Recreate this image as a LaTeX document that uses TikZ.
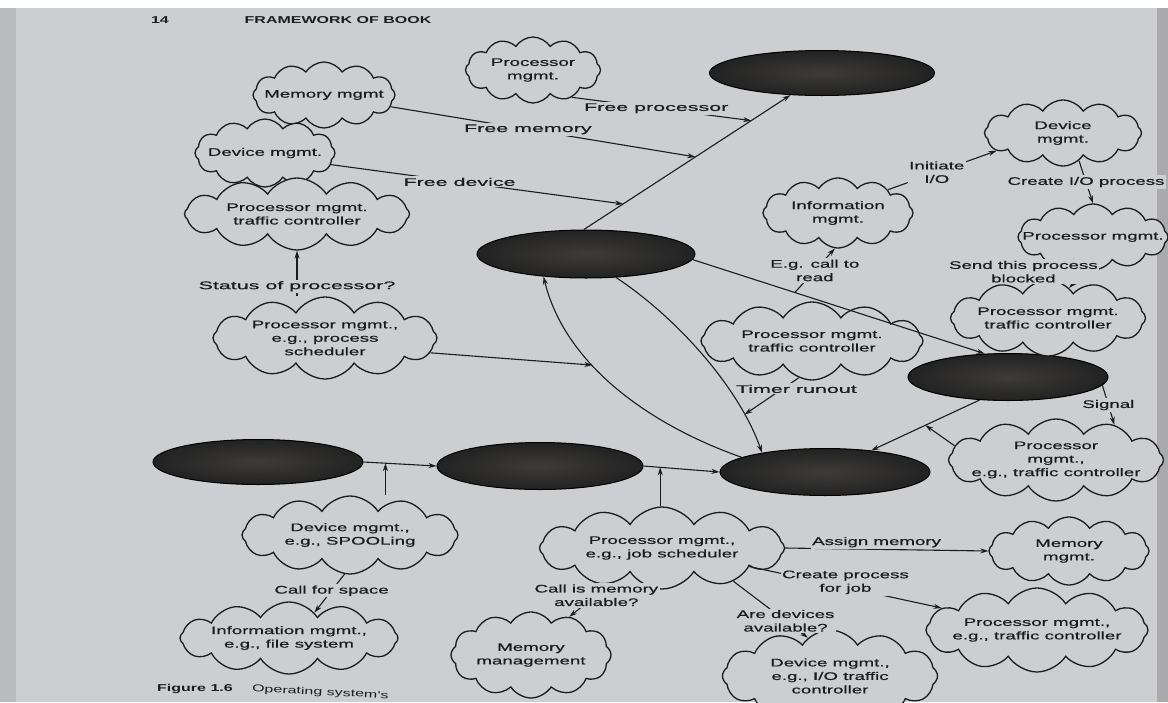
\documentclass[tikz,border=0pt]{standalone}
\usepackage{fontspec}
\setmainfont{Liberation Sans}
\newfontfamily\diagfont[FakeStretch=1.7,FakeBold=0.7]{Liberation Sans}
\newfontfamily\diagwide[FakeStretch=1.95,FakeBold=0.7]{Liberation Sans}
\newfontfamily\headfont[FakeStretch=1.6]{Liberation Sans}
\usetikzlibrary{shapes.symbols,shapes.geometric,arrows.meta,calc}

\definecolor{paper}{RGB}{205,206,210}
\definecolor{edgeL}{RGB}{186,187,191}
\definecolor{edgeR}{RGB}{170,170,173}
\definecolor{ink}{RGB}{28,28,32}
\definecolor{blobin}{RGB}{62,60,58}
\definecolor{blobout}{RGB}{34,34,34}

% a manager cloud of given outline size, with its text on top
\newcommand\puffnode[5]{%
  \node[puff, minimum width=#3, minimum height=#4+20] (#1) at (#2) {};
  \node[ctext] (#1t) at (#1) {#5};}

\begin{document}
\begin{tikzpicture}[x=1pt, y=-1pt,
  state/.style={ellipse, draw=black, line width=1pt, inner color=blobin, outer color=blobout, inner sep=0pt},
  puff/.style={cloud, cloud puffs=12, cloud puff arc=115, cloud ignores aspect, draw=ink, line width=1.3pt, fill=paper, inner sep=0pt},
  ctext/.style={align=center, text=ink, font=\diagfont\fontsize{11}{13.5}\selectfont, inner sep=0pt},
  lbl/.style={fill=paper, align=center, text=ink, font=\diagfont\fontsize{11}{13.5}\selectfont, inner sep=1.5pt},
  wide/.style={font=\diagwide\fontsize{11}{13.5}\selectfont},
  hdr/.style={text=ink, font=\headfont\bfseries\fontsize{10}{12}\selectfont, inner sep=0pt},
  conn/.style={draw=ink, line width=1.1pt},
  arr/.style={conn, -{Stealth[length=8pt,width=5pt]}}]

% page and its edges
\useasboundingbox (0,0) rectangle (1168,702);
\fill[white] (0,0) rectangle (1168,702);
\fill[paper] (0,8) rectangle (1168,702);
\fill[edgeL] (0,8) rectangle (16,702);
\fill[edgeR] (1157,8) rectangle (1168,702);

% running head
\node[hdr] (pgno) at (160,20) {14};
\node[hdr] (title) at (338,20) {FRAMEWORK OF BOOK};

% job states
\node[state, minimum width=225, minimum height=45] (E1) at (822,73) {};
\node[state, minimum width=218, minimum height=48] (E2) at (586,254) {};
\node[state, minimum width=200, minimum height=47] (E3) at (1008,377) {};
\node[state, minimum width=210, minimum height=45] (E4) at (258,462) {};
\node[state, minimum width=206, minimum height=47] (E5) at (540,466) {};
\node[state, minimum width=210, minimum height=47] (E6) at (825,472) {};

% managers
\puffnode{C1}{533,70}{135}{46}{Processor\\mgmt.}
\puffnode{C2}{324,95}{142}{46}{Memory mgmt}
\puffnode{C3}{265,153}{140}{48}{Device mgmt.}
\puffnode{C4}{297,214}{225}{52}{Processor mgmt.\\traffic controller}
\puffnode{C5}{325,338}{224}{62}{Processor mgmt.,\\e.g., process\\scheduler}
\puffnode{C6}{838,213}{150}{50}{Information\\mgmt.}
\puffnode{C7}{1063,133}{157}{46}{Device\\mgmt.}
\puffnode{C8}{1093,237}{150}{46}{Processor mgmt.}
\puffnode{C9}{1048,318}{195}{56}{Processor mgmt.\\traffic controller}
\puffnode{C10}{812,341}{222}{58}{Processor mgmt.\\traffic controller}
\puffnode{C11}{1056,460}{215}{62}{Processor\\mgmt.,\\e.g., traffic controller}
\puffnode{C12}{350,535}{216}{58}{Device mgmt.,\\e.g., SPOOLing}
\puffnode{C13}{289,638}{218}{52}{Information mgmt.,\\e.g., file system}
\puffnode{C14}{531,655}{160}{66}{Memory\\management}
\puffnode{C15}{662,548}{245}{62}{Processor mgmt.,\\e.g., job scheduler}
\puffnode{C16}{1069,551}{160}{48}{Memory\\mgmt.}
\puffnode{C17}{1037,630}{222}{64}{Processor mgmt.,\\e.g., traffic controller}
\puffnode{C18}{830,676}{215}{72}{Device mgmt.,\\e.g., I/O traffic\\controller}

% transitions between states
\draw[arr] (E2.95) -- coordinate[pos=0.19] (J3) coordinate[pos=0.54] (J2) coordinate[pos=0.81] (J1) (E1.215);
\draw[arr] (E6.170) .. controls (650,425) and (565,365) .. coordinate[pos=0.62] (Ja) (E2.208);
\draw[arr] (E2.-38) .. controls (680,320) and (740,390) .. coordinate[pos=0.8] (Jb) (E6.163);
\draw[arr] (E2.-3) -- coordinate[pos=0.35] (Jc) (E3.135);
\draw[arr] (E3.219) -- coordinate[pos=0.5] (Jh) (E6.25);
\draw[arr] (E4.east) -- coordinate[pos=0.3] (Jk) (E5.west);
\draw[arr] (E5.east) -- coordinate[pos=0.22] (Jm) (E6.west);

% calls from the managers
\draw[arr] (C1.-35) -- node[lbl, wide, pos=0.47] (L1) {Free processor} (J1);
\draw[arr] (C2.-10) -- node[lbl, wide, pos=0.45] (L2) {Free memory} (J2);
\draw[arr] (C3.-10) -- node[lbl, wide, pos=0.44] (L3) {Free device} (J3);
\draw[arr] (C5.north -| C4.south) -- node[lbl, wide, pos=0.22] (L4) {Status of processor?} (C4.south);
\draw[arr] (C5.-8) -- (Ja);
\draw[arr] (C10.-110) -- node[lbl, wide, pos=0.3, xshift=14] (L5) {Timer runout} (Jb);
\draw[arr] (Jc) -- node[lbl, pos=0.5] (L6) {E.g. call to\\read} (C6.-95);
\draw[arr] (C6.25) -- node[lbl, pos=0.45] (L7) {Initiate\\I/O} (C7.195);
\draw[arr] (C7.-60) -- node[lbl, pos=0.5] (L8) {Create I/O process} (C8.north);
\draw[arr] (C8.-100) -- node[lbl, pos=0.1, xshift=-62] (L9) {Send this process\\blocked} (C9.55);
\draw[arr] (E3.-5) -- node[lbl, pos=0.5] (L10) {Signal} (C11.31);
\draw[arr] (C11.172) -- (Jh);
\draw[arr] (Jk |- C12.north) -- (Jk);
\draw[arr] (C12.262) -- node[lbl, pos=0.43] (L11) {Call for space} (C13.45);
\draw[arr] (Jm |- C15.north) -- (Jm);
\draw[arr] (C15.east) -- node[lbl, above, pos=0.45] (L12) {Assign memory} (C16.west);
\draw[arr] (C15.-12) -- node[lbl, pos=0.5, yshift=5] (L13) {Create process\\for job} (C17.167);
\draw[arr] (C15.215) -- node[lbl, pos=0.35] (L14) {Call is memory\\available?} (C14.45);
\draw[arr] (C15.-25) -- node[lbl, pos=0.7] (L15) {Are devices\\available?} (C18.120);

% caption
\node[hdr] (fig) at (195,689) {Figure 1.6};
\node[text=ink, font=\headfont\fontsize{10}{12}\selectfont, inner sep=0pt, rotate=-3, anchor=west] (figtext) at (252,689) {Operating system's};
\end{tikzpicture}
\end{document}
